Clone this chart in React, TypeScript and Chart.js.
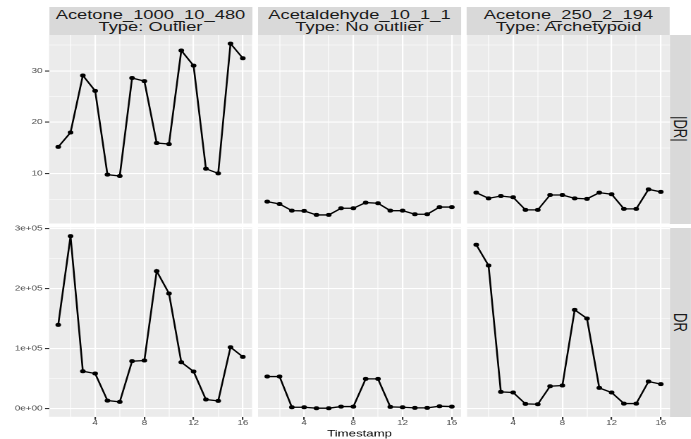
import React, { useEffect, useRef } from "react";
import { Chart, registerables } from "chart.js";

Chart.register(...registerables);

const FONT = "'Liberation Sans', Arial, Helvetica, sans-serif";
Chart.defaults.font.family = FONT;

// ---------- data ----------
const TIMESTAMPS = [1, 2, 3, 4, 5, 6, 7, 8, 9, 10, 11, 12, 13, 14, 15, 16];

const COMPOUNDS = ["Acetone_1000_10_480", "Acetaldehyde_10_1_1", "Acetone_250_2_194"];
const TYPES = ["Type: Outlier", "Type: No outlier", "Type: Archetypoid"];
const ROW_LABELS = ["|DR|", "DR"];
const X_TITLE = "Timestamp";

const ACETONE_1000_ABS = [15.2, 18.0, 29.1, 26.1, 9.8, 9.55, 28.6, 28.0, 15.95, 15.75, 33.95, 31.0, 10.95, 10.05, 35.3, 32.45];
const ACETALDEHYDE_ABS = [4.55, 4.1, 2.8, 2.75, 1.97, 1.97, 3.27, 3.27, 4.37, 4.24, 2.8, 2.8, 2.1, 2.1, 3.5, 3.5];
const ACETONE_250_ABS = [6.3, 5.2, 5.65, 5.4, 2.95, 2.95, 5.85, 5.85, 5.2, 5.1, 6.3, 6.0, 3.15, 3.15, 6.95, 6.45];

const ACETONE_1000_DR = [139400, 287200, 62200, 58300, 13300, 11100, 78900, 80000, 228900, 191700, 77200, 61700, 15000, 12800, 102200, 86100];
const ACETALDEHYDE_DR = [53300, 53300, 2200, 2200, 600, 600, 3300, 3300, 49400, 49400, 2800, 2200, 1100, 1100, 3900, 3300];
const ACETONE_250_DR = [272800, 238300, 27800, 26700, 7800, 7200, 37200, 38300, 164400, 150000, 34400, 26700, 8300, 8300, 45000, 40600];

const X_TICKS = [4, 8, 12, 16];
const X_TICK_LABELS = ["4", "8", "12", "16"];
const X_MINOR = [2, 6, 10, 14];

const ABS_TICKS = [10, 20, 30];
const ABS_TICK_LABELS = ["10", "20", "30"];
const ABS_MINOR = [5, 15, 25, 35];

const DR_TICKS = [0, 100000, 200000, 300000];
const DR_TICK_LABELS = ["0e+00", "1e+05", "2e+05", "3e+05"];
const DR_MINOR = [50000, 150000, 250000];

const ROWS = [
  [ACETONE_1000_ABS, ACETALDEHYDE_ABS, ACETONE_250_ABS],
  [ACETONE_1000_DR, ACETALDEHYDE_DR, ACETONE_250_DR],
];
const ROW_TICKS = [ABS_TICKS, DR_TICKS];
const ROW_TICK_LABELS = [ABS_TICK_LABELS, DR_TICK_LABELS];
const ROW_MINOR = [ABS_MINOR, DR_MINOR];

// ---------- layout ----------
const SX = 1.41;
const H = 439;
const W = 691 / SX;
const COL_L = [49, 258, 467].map((v) => v / SX);
const COL_R = [252, 461, 670].map((v) => v / SX);
const ROW_T = [35, 227.5];
const ROW_B = [223.5, 416.8];
const STRIP_TOP = 7;
const Y_AXIS_W = 30;
const X_AXIS_H = 22;

const panelBg = {
  id: "panelBg",
  beforeDraw(chart: any) {
    const { ctx, chartArea } = chart;
    ctx.save();
    ctx.fillStyle = "#EBEBEB";
    ctx.fillRect(chartArea.left, chartArea.top, chartArea.right - chartArea.left, chartArea.bottom - chartArea.top);
    ctx.restore();
  },
};

function Panel({ row, col }: { row: number; col: number }) {
  const ref = useRef<HTMLCanvasElement | null>(null);
  useEffect(() => {
    const values = ROWS[row][col];
    const rowAll = ([] as number[]).concat(...ROWS[row]);
    const lo = Math.min(...rowAll);
    const hi = Math.max(...rowAll);
    const pad = 0.05 * (hi - lo);
    const xlo = Math.min(...TIMESTAMPS);
    const xhi = Math.max(...TIMESTAMPS);
    const xpad = 0.05 * (xhi - xlo);
    const yMajor = ROW_TICKS[row];
    const yLabels = ROW_TICK_LABELS[row];
    const yMinor = ROW_MINOR[row];
    const isLeft = col === 0;
    const isBottom = row === 1;

    const chart = new Chart(ref.current as HTMLCanvasElement, {
      type: "line",
      data: {
        datasets: [
          {
            data: TIMESTAMPS.map((t, i) => ({ x: t, y: values[i] })),
            borderColor: "#000000",
            borderWidth: 1.3,
            pointRadius: 2,
            pointBackgroundColor: "#000000",
            pointBorderWidth: 0,
            tension: 0,
            fill: false,
          },
        ],
      },
      options: {
        animation: false,
        responsive: true,
        maintainAspectRatio: false,
        devicePixelRatio: 2,
        events: [],
        layout: {
          padding: {
            left: isLeft ? COL_L[col] - Y_AXIS_W : COL_L[col],
            right: W - COL_R[col],
            top: ROW_T[row],
            bottom: isBottom ? H - ROW_B[row] - X_AXIS_H : H - ROW_B[row],
          },
        },
        plugins: {
          legend: { display: false },
          tooltip: { enabled: false },
        },
        scales: {
          x: {
            type: "linear",
            bounds: "data",
            min: xlo - xpad,
            max: xhi + xpad,
            afterBuildTicks: (ax: any) => {
              ax.ticks = [...X_TICKS, ...X_MINOR].sort((a, b) => a - b).map((v) => ({ value: v }));
            },
            afterFit: (ax: any) => {
              ax.height = isBottom ? X_AXIS_H : 0;
            },
            border: { display: false },
            grid: {
              color: "#FFFFFF",
              lineWidth: (c: any) => (X_TICKS.includes(c.tick?.value) ? 1.1 : 0.55),
              drawTicks: isBottom,
              tickLength: 3,
              tickWidth: 1.1,
              tickColor: (c: any) => (X_TICKS.includes(c.tick?.value) ? "#333333" : "rgba(0,0,0,0)"),
            },
            ticks: {
              display: isBottom,
              autoSkip: false,
              maxRotation: 0,
              color: "#4D4D4D",
              font: { size: 7 },
              padding: -1,
              callback: (v: any) => {
                const i = X_TICKS.indexOf(Number(v));
                return i >= 0 ? X_TICK_LABELS[i] : "";
              },
            },
            title: {
              display: isBottom && col === 1,
              text: X_TITLE,
              color: "#000000",
              font: { size: 9.4, lineHeight: 1 },
              padding: 0,
            },
          },
          y: {
            type: "linear",
            bounds: "data",
            min: lo - pad,
            max: hi + pad,
            afterBuildTicks: (ax: any) => {
              ax.ticks = [...yMajor, ...yMinor].sort((a, b) => a - b).map((v) => ({ value: v }));
            },
            afterFit: (ax: any) => {
              ax.width = isLeft ? Y_AXIS_W : 0;
            },
            border: { display: false },
            grid: {
              color: "#FFFFFF",
              lineWidth: (c: any) => (yMajor.includes(c.tick?.value) ? 1.1 : 0.55),
              drawTicks: isLeft,
              tickLength: 2.8,
              tickWidth: 1.1,
              tickColor: (c: any) => (yMajor.includes(c.tick?.value) ? "#333333" : "rgba(0,0,0,0)"),
            },
            ticks: {
              display: isLeft,
              autoSkip: false,
              color: "#4D4D4D",
              font: { size: 7 },
              padding: 1.8,
              callback: (v: any) => {
                const i = yMajor.indexOf(Number(v));
                return i >= 0 ? yLabels[i] : "";
              },
            },
          },
        },
      } as any,
      plugins: [panelBg],
    });
    return () => chart.destroy();
  }, [row, col]);

  return (
    <div style={{ position: "absolute", left: 0, top: 0, width: W, height: H }}>
      <canvas ref={ref} />
    </div>
  );
}

export default function App() {
  const panels = [];
  for (let r = 0; r < 2; r++) for (let c = 0; c < 3; c++) panels.push(<Panel key={`${r}-${c}`} row={r} col={c} />);
  return (
    <div
      style={{
        position: "fixed",
        left: 0,
        top: 0,
        width: W,
        height: H,
        transform: `scaleX(${SX})`,
        transformOrigin: "0 0",
        background: "#FFFFFF",
        fontFamily: FONT,
        overflow: "hidden",
      }}
    >
      {COMPOUNDS.map((name, c) => (
        <div
          key={`strip-${c}`}
          style={{
            position: "absolute",
            left: COL_L[c],
            top: STRIP_TOP,
            width: COL_R[c] - COL_L[c],
            height: ROW_T[0] - STRIP_TOP,
            background: "#D9D9D9",
            color: "#1A1A1A",
            fontSize: 13,
            lineHeight: "12px",
            textAlign: "center",
            paddingTop: 2,
            boxSizing: "border-box",
            whiteSpace: "nowrap",
          }}
        >
          <div>{name}</div>
          <div>{TYPES[c]}</div>
        </div>
      ))}
      {ROW_LABELS.map((lab, r) => (
        <div
          key={`rstrip-${r}`}
          style={{
            position: "absolute",
            left: COL_R[2],
            top: ROW_T[r],
            width: W - COL_R[2],
            height: ROW_B[r] - ROW_T[r],
            background: "#D9D9D9",
            display: "flex",
            alignItems: "center",
            justifyContent: "center",
          }}
        >
          <span style={{ writingMode: "vertical-rl", fontSize: 13, lineHeight: 1, color: "#1A1A1A" }}>{lab}</span>
        </div>
      ))}
      {panels}
    </div>
  );
}
